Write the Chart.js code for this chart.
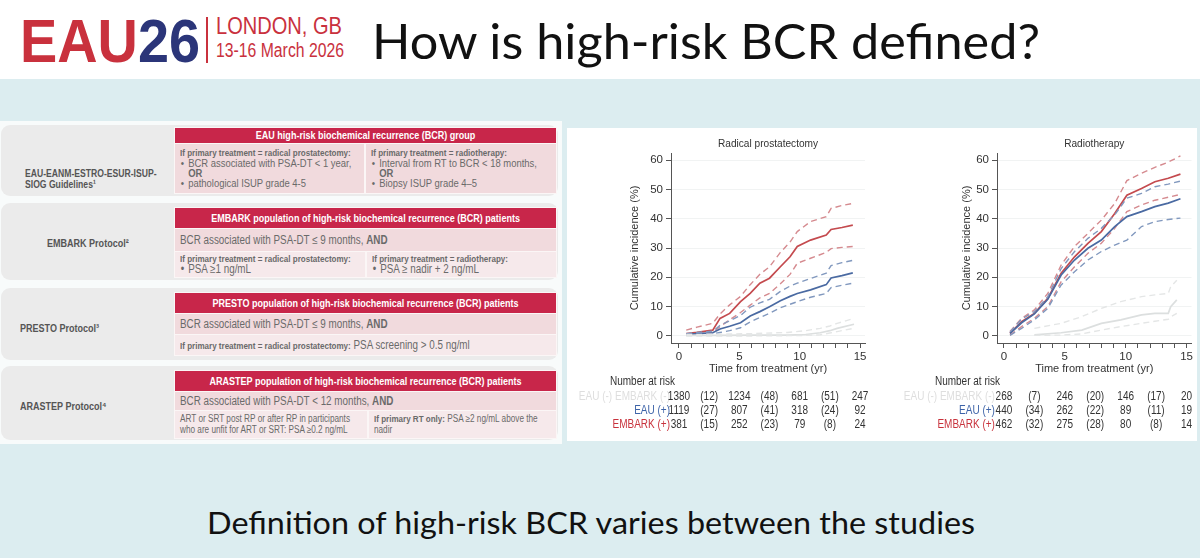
<!DOCTYPE html>
<html>
<head>
<meta charset="utf-8">
<script src="https://cdn.jsdelivr.net/npm/chart.js@4.4.1/dist/chart.umd.min.js"></script>
<style>
  html, body { margin: 0; padding: 0; }
  body { width: 1200px; height: 558px; position: relative; overflow: hidden; background: #dcedf0;
         font-family: 'Liberation Sans', Arial, sans-serif; }
  .abs { position: absolute; }
  #top { left: 0; top: 0; width: 1200px; height: 79px; background: #fff; }
  .fit { display: inline-block; white-space: nowrap; transform-origin: left top; }
  #logo { left: 20px; top: 10px; font: bold 62px/62px 'Liberation Sans', sans-serif; }
  #logo .r { color: #c9313d; } #logo .b { color: #2b3579; }
  #vline { left: 206px; top: 17px; width: 1.5px; height: 46px; background: #c9313d; }
  #city { left: 216px; top: 14px; font: 24px/24px 'Liberation Sans', sans-serif; color: #c9313d; }
  #date { left: 216px; top: 40px; font: 20px/20px 'Liberation Sans', sans-serif; color: #c9313d; }
  #title { left: 372px; top: 10px; font: 49px/60px Lato, 'Open Sans', sans-serif; color: #111; }
  #foot { left: 207px; top: 503px; font: 30px/38px Lato, 'Open Sans', sans-serif; color: #111; }

  #leftbg { left: 0; top: 121px; width: 562px; height: 323px; background: #f8fbfb; }
  .box { left: 1px; width: 557px; background: #ebebeb; border-radius: 9px; }
  .wbg { left: 174px; width: 383px; background: #fbf6f6; }
  .sq { transform: scaleX(0.82); transform-origin: left top; width: 122%; white-space: nowrap; }
  .lab { font-weight: bold; font-size: 11px; line-height: 11px; color: #555; }
  .hd { left: 175px; width: 381px; background: #c8264a; color: #fff; font-weight: bold; font-size: 11px;
        text-align: center; box-sizing: border-box; }
  .band { background: #f1dadd; color: #6a6a6a; font-size: 12px; box-sizing: border-box; padding-left: 5px; }
  .band.lt { background: #f6e9eb; }
  .sub { font-weight: bold; font-size: 9.8px; }
  .li { position: relative; padding-left: 10px; }
  .li:before { content: '\2022'; position: absolute; left: 1px; }
  .or { padding-left: 10px; font-weight: bold; }
  #panel { left: 567px; top: 128px; width: 630px; height: 313px; background: #fff; }
  canvas { position: absolute; }
</style>
</head>
<body>
<div id="top" class="abs"></div>
<div id="logo" class="abs fit" data-w="180"><span class="r">EAU</span><span class="b">26</span></div>
<div id="vline" class="abs"></div>
<div id="city" class="abs fit" data-w="126">LONDON, GB</div>
<div id="date" class="abs fit" data-w="128">13-16 March 2026</div>
<div id="title" class="abs fit" data-w="668">How is high-risk BCR defined?</div>

<div id="leftbg" class="abs"></div>

<!-- row 1 -->
<div class="abs box" style="top:125px;height:71px"></div>
<div class="abs lab" style="left:25px;top:168px;font-size:10.5px"><div class="sq">EAU-EANM-ESTRO-ESUR-ISUP-<br>SIOG Guidelines¹</div></div>
<div class="abs wbg" style="top:127px;height:67px"></div>
<div class="abs hd" style="top:128px;height:15px;line-height:15px"><div class="sq">EAU high-risk biochemical recurrence (BCR) group</div></div>
<div class="abs band" style="left:175px;top:144px;width:189px;height:49px;padding-top:4px;line-height:10px;font-size:11.5px">
  <div class="sq">
  <div class="sub">If primary treatment = radical prostatectomy:</div>
  <div class="li">BCR associated with PSA-DT &lt; 1 year,</div>
  <div class="or">OR</div>
  <div class="li">pathological ISUP grade 4-5</div>
  </div>
</div>
<div class="abs band" style="left:366px;top:144px;width:190px;height:49px;padding-top:4px;line-height:10px;font-size:11.5px">
  <div class="sq">
  <div class="sub">If primary treatment = radiotherapy:</div>
  <div class="li">Interval from RT to BCR &lt; 18 months,</div>
  <div class="or">OR</div>
  <div class="li">Biopsy ISUP grade 4–5</div>
  </div>
</div>

<!-- row 2 -->
<div class="abs box" style="top:203px;height:77px"></div>
<div class="abs lab" style="left:47px;top:238px"><div class="sq">EMBARK Protocol²</div></div>
<div class="abs wbg" style="top:207px;height:71px"></div>
<div class="abs hd" style="top:208px;height:20px;line-height:20px"><div class="sq">EMBARK population of high-risk biochemical recurrence (BCR) patients</div></div>
<div class="abs band" style="left:175px;top:229px;width:381px;height:22px;line-height:22px"><div class="sq">BCR associated with PSA-DT ≤ 9 months, <b>AND</b></div></div>
<div class="abs band lt" style="left:175px;top:252px;width:190px;height:25px;line-height:10px;padding-top:2px">
  <div class="sq">
  <div class="sub">If primary treatment = radical prostatectomy:</div>
  <div class="li">PSA ≥1 ng/mL</div>
  </div>
</div>
<div class="abs band lt" style="left:367px;top:252px;width:189px;height:25px;line-height:10px;padding-top:2px">
  <div class="sq">
  <div class="sub">If primary treatment = radiotherapy:</div>
  <div class="li">PSA ≥ nadir + 2 ng/mL</div>
  </div>
</div>

<!-- row 3 -->
<div class="abs box" style="top:288px;height:72px"></div>
<div class="abs lab" style="left:20px;top:323px"><div class="sq">PRESTO Protocol³</div></div>
<div class="abs wbg" style="top:292px;height:64px"></div>
<div class="abs hd" style="top:293px;height:20px;line-height:20px"><div class="sq">PRESTO population of high-risk biochemical recurrence (BCR) patients</div></div>
<div class="abs band" style="left:175px;top:314px;width:381px;height:20px;line-height:20px"><div class="sq">BCR associated with PSA-DT ≤ 9 months, <b>AND</b></div></div>
<div class="abs band lt" style="left:175px;top:335px;width:381px;height:20px;line-height:20px"><div class="sq"><span class="sub">If primary treatment = radical prostatectomy:</span> PSA screening &gt; 0.5 ng/ml</div></div>

<!-- row 4 -->
<div class="abs box" style="top:366px;height:74px"></div>
<div class="abs lab" style="left:20px;top:401px"><div class="sq">ARASTEP Protocol⁴</div></div>
<div class="abs wbg" style="top:370px;height:69px"></div>
<div class="abs hd" style="top:371px;height:20px;line-height:20px"><div class="sq">ARASTEP population of high-risk biochemical recurrence (BCR) patients</div></div>
<div class="abs band" style="left:175px;top:392px;width:381px;height:18px;line-height:18px"><div class="sq">BCR associated with PSA-DT &lt; 12 months, <b>AND</b></div></div>
<div class="abs band lt" style="left:175px;top:411px;width:192px;height:27px;line-height:10.5px;padding-top:3px;font-size:10px"><div class="sq">ART or SRT post RP or after RP in participants<br>who are unfit for ART or SRT: PSA ≥0.2 ng/mL</div></div>
<div class="abs band lt" style="left:369px;top:411px;width:187px;height:27px;line-height:10.5px;padding-top:3px;font-size:10px"><div class="sq"><span class="sub">If primary RT only:</span> PSA ≥2 ng/mL above the<br>nadir</div></div>

<div id="panel" class="abs"></div>
<canvas id="rp" width="315" height="305" style="left:567px;top:130px"></canvas>
<canvas id="rt" width="313" height="305" style="left:882px;top:130px"></canvas>

<div id="foot" class="abs fit" data-w="768">Definition of high-risk BCR varies between the studies</div>

<script>
// ---- tick labels / grids
const yearTicks = [0, 1, 2, 3, 4, 5, 6, 7, 8, 9, 10, 11, 12, 13, 14, 15];
const pctTicks = [0, 10, 20, 30, 40, 50, 60];
const riskTimes = [0, 5, 10, 15];
const censTimes = [2.5, 7.5, 12.5];

// ---- Radical prostatectomy: cumulative incidence (%) with 95% CI
const rpTime = [0.6, 1.5, 2.8, 3.4, 4.2, 5.1, 5.9, 6.7, 7.5, 8.4, 9.2, 9.8, 10.9, 12.2, 12.6, 13.5, 14.4];
const rpEmbark = [0.8, 1.2, 2, 6, 7.7, 11.7, 14.5, 18, 19.7, 23.6, 27, 30.5, 32.7, 34.4, 36.3, 37, 37.8];
const rpEmbarkHi = [2, 3, 4.3, 7.5, 10.6, 13.5, 17.5, 21, 23.6, 28.5, 32, 35.6, 39, 40.7, 43.5, 44.5, 45.2];
const rpEmbarkLo = [0.4, 0.6, 1.1, 3.2, 5.5, 8, 10.5, 13, 14.5, 17.8, 21, 24.8, 26.5, 28.5, 29.8, 30.2, 30.5];
const rpEau = [0.5, 0.8, 1.1, 2.4, 3.3, 4.5, 6.8, 8.3, 10, 12, 13.5, 14.5, 15.7, 17.5, 19.8, 20.6, 21.5];
const rpEauHi = [0.8, 1.2, 1.6, 3.6, 5.2, 7, 9.8, 11.3, 12.5, 15.2, 17, 18, 19.6, 21.4, 24, 25, 25.8];
const rpEauLo = [0.2, 0.4, 0.7, 1.2, 1.8, 2.8, 4.8, 6.3, 7.7, 9.6, 10.8, 11.7, 13.2, 14.5, 16.5, 17.3, 18];
const rpNegTime = [0.6, 3, 6, 9, 10.5, 11.7, 12.5, 13.1, 14.5];
const rpNeg = [0.2, 0.2, 0.3, 0.3, 0.5, 1.1, 1.8, 2.6, 4];
const rpNegHi = [0.5, 0.6, 0.8, 1.2, 1.8, 2.6, 3.4, 4.3, 6];
const rpNegLo = [0, 0, 0, 0.1, 0.2, 0.4, 1, 1.5, 2.6];

// ---- Radiotherapy
const rtTime = [0.5, 1.45, 2.5, 3.6, 4.7, 5.8, 6.9, 8.0, 9.1, 10.1, 11.3, 12.4, 13.5, 14.5];
const rtEmbark = [0.9, 4.9, 7.7, 12.8, 21.4, 27, 31.6, 35.6, 41.8, 48, 50.3, 52.6, 53.8, 55.2];
const rtEmbarkHi = [1.5, 6, 8.9, 14.5, 24.2, 30.5, 35, 39.5, 45.2, 53, 55.5, 57.5, 59.3, 61.4];
const rtEmbarkLo = [0.3, 3.2, 6, 10, 18.5, 23.6, 28.2, 31.6, 36.7, 42.4, 44.7, 46.3, 47.3, 48.3];
const rtEau = [0.9, 4.5, 7.5, 12.5, 20.8, 25.9, 29.9, 32.7, 37.3, 40.7, 42.4, 44.1, 45.3, 46.8];
const rtEauHi = [1.4, 5.7, 8.3, 13.4, 23, 28.8, 33.3, 36.7, 41.3, 47, 48.6, 50.9, 51.8, 52.8];
const rtEauLo = [0.2, 2.6, 5.5, 9.4, 17.4, 21.9, 25.9, 28.8, 31, 32.7, 37.3, 39, 39.7, 40.2];
const rtNegTime = [2.5, 4.7, 6.4, 8.0, 9.6, 11.3, 12.4, 13.5, 13.7, 14.2];
const rtNeg = [0.4, 1.1, 2, 4.3, 5.5, 7.2, 7.7, 7.7, 10, 12.3];
const rtNegHi = [2.6, 4.3, 6.6, 9.4, 11.7, 13.4, 14, 14.5, 16.8, 19];
const rtNegLo = [0.2, 0.3, 0.7, 2, 3.2, 4.3, 5, 5.7, 6.5, 7.7];

// ---- Number at risk (censored in brackets)
const rpNegRisk = [1380, 1234, 681, 247], rpNegCens = [12, 48, 51];
const rpEauRisk = [1119, 807, 318, 92], rpEauCens = [27, 41, 24];
const rpEmbRisk = [381, 252, 79, 24], rpEmbCens = [15, 23, 8];
const rtNegRisk = [268, 246, 146, 20], rtNegCens = [7, 20, 17];
const rtEauRisk = [440, 262, 89, 19], rtEauCens = [34, 22, 11];
const rtEmbRisk = [462, 275, 80, 14], rtEmbCens = [32, 28, 8];

const RED = '#c44a4e', RED_D = '#d58a8f';
const BLUE = '#4a6aa2', BLUE_D = '#8198be';
const GREY = '#dcdfdf', GREY_D = '#e4e6e6';
const FONT = "'Liberation Sans', Arial, sans-serif";

Chart.defaults.font.family = FONT;
Chart.defaults.color = '#333';

function pts(xs, ys) { return xs.map((x, i) => ({ x: x, y: ys[i] })); }
function line(data, color, dashed) {
    return {
        data: data, borderColor: color, borderWidth: dashed ? 1.4 : 1.7,
        borderDash: dashed ? [6, 4] : [], pointRadius: 0, tension: 0, fill: false
    };
}

// narrow text: the slide's chart font is condensed
function txt(ctx, s, x, y, align, sx) {
    ctx.save();
    ctx.translate(x, y);
    ctx.scale(sx, 1);
    ctx.textAlign = align;
    ctx.fillText(s, 0, 0);
    ctx.restore();
}

// subplot title + number at risk table, aligned on the x scale
const riskTable = {
    id: 'riskTable',
    afterDraw(chart, args, opts) {
        const ctx = chart.ctx, xs = chart.scales.x, area = chart.chartArea;
        const x0 = xs.getPixelForValue(0);
        ctx.save();
        ctx.textBaseline = 'middle';
        ctx.font = '11.5px ' + FONT;
        ctx.fillStyle = '#333';
        txt(ctx, opts.title, (area.left + area.right) / 2, area.top - 9, 'center', 0.88);
        ctx.font = '12.5px ' + FONT;
        txt(ctx, 'Number at risk', x0 - 69, area.bottom + 39, 'left', 0.8);
        opts.rows.forEach((row, i) => {
            const y = area.bottom + 54 + i * 14;
            ctx.fillStyle = row.color;
            txt(ctx, row.label, x0 - 9, y, 'right', 0.8);
            ctx.fillStyle = '#333';
            row.risk.forEach((n, j) => txt(ctx, String(n), xs.getPixelForValue(riskTimes[j]), y, 'center', 0.8));
            row.cens.forEach((n, j) => txt(ctx, '(' + n + ')', xs.getPixelForValue(censTimes[j]), y, 'center', 0.8));
        });
        ctx.restore();
    }
};

function makeChart(id, title, xmin, yW, pad, sets, rows) {
    new Chart(document.getElementById(id), {
        type: 'line',
        data: { datasets: sets },
        plugins: [riskTable],
        options: {
            responsive: false, animation: false,
            layout: { padding: pad },
            plugins: { legend: { display: false }, tooltip: { enabled: false }, riskTable: { title: title, rows: rows } },
            scales: {
                x: {
                    type: 'linear', min: xmin, max: 15.41,
                    afterBuildTicks: s => { s.ticks = yearTicks.map(v => ({ value: v })); },
                    afterFit: s => { s.height = 33; },
                    ticks: { autoSkip: false, maxRotation: 0, padding: 2, font: { size: 11.5 },
                             callback: v => (v % 5 === 0 ? String(v) : '') },
                    grid: { drawOnChartArea: false, tickLength: 5, tickColor: '#555' },
                    border: { color: '#555' },
                    title: { display: true, text: 'Time from treatment (yr)', padding: 0, font: { size: 11 } }
                },
                y: {
                    min: -2.4, max: 62.4,
                    afterBuildTicks: s => { s.ticks = pctTicks.map(v => ({ value: v })); },
                    afterFit: s => { s.width = yW; },
                    ticks: { padding: 3, font: { size: 11.5 } },
                    grid: { color: '#f1f3f3', tickLength: 5, tickColor: '#555' },
                    border: { color: '#555' },
                    title: { display: true, text: 'Cumulative incidence (%)', padding: { top: 4, bottom: 0 }, font: { size: 11 } }
                }
            }
        }
    });
}

makeChart('rp', 'Radical prostatectomy', -0.66, 47, { left: 57, top: 23, right: 17, bottom: 59 }, [
    line(pts(rpNegTime, rpNegHi), GREY_D, true),
    line(pts(rpNegTime, rpNegLo), GREY_D, true),
    line(pts(rpNegTime, rpNeg), GREY, false),
    line(pts(rpTime, rpEauHi), BLUE_D, true),
    line(pts(rpTime, rpEauLo), BLUE_D, true),
    line(pts(rpTime, rpEau), BLUE, false),
    line(pts(rpTime, rpEmbarkHi), RED_D, true),
    line(pts(rpTime, rpEmbarkLo), RED_D, true),
    line(pts(rpTime, rpEmbark), RED, false)
], [
    { label: 'EAU (-) EMBARK (-)', color: '#dedede', risk: rpNegRisk, cens: rpNegCens },
    { label: 'EAU (+)', color: '#3d63a8', risk: rpEauRisk, cens: rpEauCens },
    { label: 'EMBARK (+)', color: '#c8323c', risk: rpEmbRisk, cens: rpEmbCens }
]);

makeChart('rt', 'Radiotherapy', -0.57, 41, { left: 74, top: 23, right: 3, bottom: 59 }, [
    line(pts(rtNegTime, rtNegHi), GREY_D, true),
    line(pts(rtNegTime, rtNegLo), GREY_D, true),
    line(pts(rtNegTime, rtNeg), GREY, false),
    line(pts(rtTime, rtEauHi), BLUE_D, true),
    line(pts(rtTime, rtEauLo), BLUE_D, true),
    line(pts(rtTime, rtEau), BLUE, false),
    line(pts(rtTime, rtEmbarkHi), RED_D, true),
    line(pts(rtTime, rtEmbarkLo), RED_D, true),
    line(pts(rtTime, rtEmbark), RED, false)
], [
    { label: 'EAU (-) EMBARK (-)', color: '#dedede', risk: rtNegRisk, cens: rtNegCens },
    { label: 'EAU (+)', color: '#3d63a8', risk: rtEauRisk, cens: rtEauCens },
    { label: 'EMBARK (+)', color: '#c8323c', risk: rtEmbRisk, cens: rtEmbCens }
]);

// squeeze the slide texts to the widths they have in the slide
document.querySelectorAll('.fit').forEach(el => {
    const w = el.getBoundingClientRect().width;
    el.style.transform = 'scaleX(' + (Number(el.dataset.w) / w) + ')';
});
</script>
</body>
</html>
